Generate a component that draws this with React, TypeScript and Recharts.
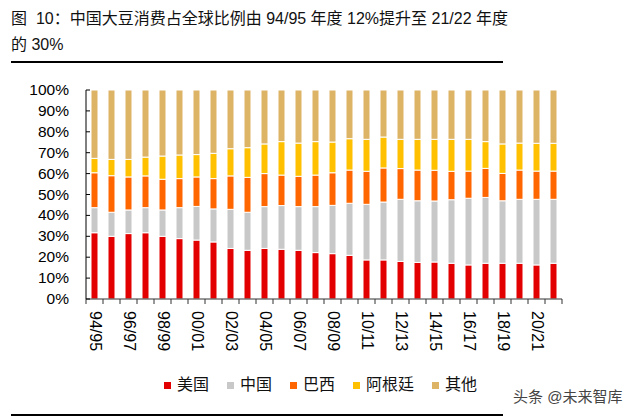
import React from "react";
import { BarChart, Bar, XAxis, YAxis } from "recharts";

const seasons = [
  "94/95", "95/96", "96/97", "97/98", "98/99", "99/00", "00/01", "01/02",
  "02/03", "03/04", "04/05", "05/06", "06/07", "07/08", "08/09", "09/10",
  "10/11", "11/12", "12/13", "13/14", "14/15", "15/16", "16/17", "17/18",
  "18/19", "19/20", "20/21", "21/22",
];

// share of world soybean consumption, %
const usa = [31.7, 30.0, 31.3, 31.7, 30.0, 28.9, 28.2, 27.3, 24.2, 23.3, 24.2, 23.8, 23.3, 22.2,
  21.7, 20.9, 18.7, 18.7, 18.0, 17.5, 17.7, 17.1, 16.3, 17.1, 17.1, 17.1, 16.3, 17.1];
const china = [12.0, 11.5, 11.3, 12.0, 12.6, 14.8, 16.1, 15.8, 18.7, 18.2, 20.0, 20.9, 20.9, 22.0,
  23.1, 24.9, 26.6, 27.7, 29.7, 29.5, 29.2, 30.4, 31.9, 31.5, 29.9, 30.6, 31.4, 30.6];
const brazil = [16.7, 17.5, 15.8, 15.2, 14.7, 13.9, 14.1, 14.5, 16.0, 16.7, 15.8, 14.6, 14.5, 15.1,
  15.6, 15.9, 15.8, 16.3, 14.7, 14.7, 14.7, 13.6, 13.0, 13.9, 13.1, 14.0, 13.5, 13.5];
const argentina = [6.9, 7.8, 8.4, 9.0, 11.1, 11.3, 10.7, 12.1, 13.0, 14.2, 14.2, 16.0, 15.9, 16.0,
  14.7, 15.0, 15.3, 14.8, 14.0, 14.7, 14.8, 15.3, 15.2, 12.8, 14.1, 12.9, 13.3, 13.3];
const others = [32.7, 33.2, 33.2, 32.1, 31.6, 31.1, 30.9, 30.3, 28.1, 27.6, 25.8, 24.7, 25.4, 24.7,
  24.9, 23.3, 23.6, 22.5, 23.6, 23.6, 23.6, 23.6, 23.6, 24.7, 25.8, 25.4, 25.5, 25.5];

const yTicks = [0, 0.1, 0.2, 0.3, 0.4, 0.5, 0.6, 0.7, 0.8, 0.9, 1];

const series = [
  { key: "usa", name: "美国", color: "#E30000", values: usa },
  { key: "china", name: "中国", color: "#C8C8C8", values: china },
  { key: "brazil", name: "巴西", color: "#FF6600", values: brazil },
  { key: "argentina", name: "阿根廷", color: "#FFC000", values: argentina },
  { key: "others", name: "其他", color: "#DDB366", values: others },
];

const data = seasons.map((s, i) => {
  const row: any = { season: s };
  series.forEach((sr) => (row[sr.key] = sr.values[i]));
  return row;
});

const FONT = "'Liberation Sans', Arial, 'Noto Sans CJK SC', sans-serif";
const PLOT_LEFT = 86;
const PLOT_RIGHT = 562;
const PLOT_TOP = 90;
const PLOT_BOTTOM = 299;
const BAND = (PLOT_RIGHT - PLOT_LEFT) / seasons.length;

const YTick = (props: any) => {
  const { x, y, payload } = props;
  return (
    <g>
      <line x1={PLOT_LEFT} x2={PLOT_LEFT + 4} y1={y} y2={y} stroke="#000" />
      <text x={x} y={y} dy={5} textAnchor="end" fontSize={15.5} fill="#000" fontFamily={FONT}>
        {Math.round(payload.value * 100)}%
      </text>
    </g>
  );
};

const XTick = (props: any) => {
  const { x, y, payload, index } = props;
  const last = index === seasons.length - 1;
  return (
    <g>
      <line x1={x - BAND / 2} x2={x - BAND / 2} y1={y} y2={y + 5} stroke="#333" />
      {last && <line x1={x + BAND / 2} x2={x + BAND / 2} y1={y} y2={y + 5} stroke="#333" />}
      {index % 2 === 0 && (
        <text
          transform={`translate(${x - 5},${y + 12}) rotate(90)`}
          textAnchor="start"
          fontSize={16}
          fill="#000"
          fontFamily={FONT}
        >
          {payload.value}
        </text>
      )}
    </g>
  );
};

export default function App() {
  return (
    <div
      style={{
        position: "absolute",
        left: 0,
        top: 0,
        width: 640,
        height: 418,
        background: "#fff",
        fontFamily: FONT,
        color: "#111",
      }}
    >
      <div style={{ position: "absolute", left: 11, top: 6, fontSize: 16, lineHeight: "26px" }}>
        图&nbsp;&nbsp;10：中国大豆消费占全球比例由 94/95 年度 12%提升至 21/22 年度
        <br />
        的 30%
      </div>
      <div style={{ position: "absolute", left: 11, top: 61, width: 492, height: 1.5, background: "#000" }} />

      <div style={{ position: "absolute", left: 0, top: 0 }}>
        <BarChart
          width={640}
          height={418}
          data={data}
          stackOffset="expand"
          barSize={7}
          margin={{ top: PLOT_TOP, right: 640 - PLOT_RIGHT, left: PLOT_LEFT - 60, bottom: 418 - PLOT_BOTTOM - 60 }}
        >
          <XAxis
            dataKey="season"
            interval={0}
            height={60}
            tick={<XTick />}
            tickLine={false}
            tickSize={0}
            tickMargin={0}
            axisLine={{ stroke: "#333" }}
          />
          <YAxis
            width={60}
            domain={[0, 1]}
            ticks={yTicks}
            interval={0}
            tick={<YTick />}
            tickLine={false}
            tickSize={0}
            tickMargin={17}
            axisLine={{ stroke: "#000" }}
          />
          {series.map((s) => (
            <Bar
              key={s.key}
              dataKey={s.key}
              name={s.name}
              stackId="a"
              fill={s.color}
              stroke="#fff"
              strokeWidth={1}
              isAnimationActive={false}
            />
          ))}
        </BarChart>
      </div>

      <div
        style={{
          position: "absolute",
          left: 164,
          top: 375,
          display: "flex",
          alignItems: "center",
          fontSize: 16,
          lineHeight: "20px",
        }}
      >
        {series.map((s) => (
          <div key={s.key} style={{ display: "flex", alignItems: "center", marginRight: 18 }}>
            <span style={{ width: 7, height: 7, background: s.color, marginRight: 6, display: "inline-block" }} />
            <span>{s.name}</span>
          </div>
        ))}
      </div>

      <div style={{ position: "absolute", left: 513, top: 385, fontSize: 15, color: "#444" }}>头条 @未来智库</div>
      <div style={{ position: "absolute", left: 11, top: 414, width: 492, height: 1.5, background: "#000" }} />
    </div>
  );
}
